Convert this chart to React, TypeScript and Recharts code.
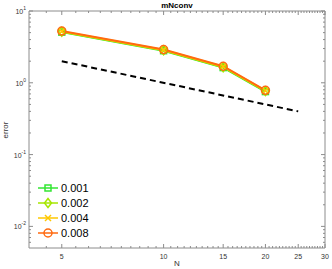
import React from "react";
import { Label, Legend, Line, LineChart, XAxis, YAxis } from "recharts";

// sample sizes and errors
const nValues = [5, 10, 15, 20];
const err001 = [5.08, 2.8, 1.63, 0.755];
const err002 = [5.14, 2.84, 1.65, 0.765];
const err004 = [5.2, 2.87, 1.68, 0.775];
const err008 = [5.26, 2.9, 1.7, 0.785];

// first-order reference slope (dashed)
const refN = [5, 25];
const refErr = [2, 0.4];

const xMajor = [5, 10, 15, 20, 25, 30];
const xMinor = [4.5, 5.5, 6, 6.5, 7, 7.5, 8, 8.5, 9, 9.5, 10.5, 11, 11.5, 12, 12.5, 13, 13.5, 14, 14.5, 15.5, 16, 16.5, 17, 17.5, 18, 18.5, 19, 19.5, 20.5, 21, 21.5, 22, 22.5, 23, 23.5, 24, 24.5, 25.5, 26, 26.5, 27, 27.5, 28, 28.5, 29, 29.5];
const yMajor = [0.01, 0.1, 1, 10];
const yMinor = [0.006, 0.007, 0.008, 0.009, 0.02, 0.03, 0.04, 0.05, 0.06, 0.07, 0.08, 0.09, 0.2, 0.3, 0.4, 0.5, 0.6, 0.7, 0.8, 0.9, 2, 3, 4, 5, 6, 7, 8, 9];
const yExp: Record<number, string> = { 0.01: "-2", 0.1: "-1", 1: "0", 10: "1" };

type MarkerKind = "square" | "diamond" | "cross" | "circle";

const series: { name: string; color: string; marker: MarkerKind; values: number[] }[] = [
  { name: "0.001", color: "#33e633", marker: "square", values: err001 },
  { name: "0.002", color: "#a6e600", marker: "diamond", values: err002 },
  { name: "0.004", color: "#ffc800", marker: "cross", values: err004 },
  { name: "0.008", color: "#ff6a10", marker: "circle", values: err008 },
];

const toPoints = (xs: number[], ys: number[]) => xs.map((n, i) => ({ n, e: ys[i] }));

const FONT = "'Liberation Sans', Arial, sans-serif";
const AXIS = "#8c8c8c";
const TEXT = "#333";

function Marker({ kind, cx, cy, color }: { kind: MarkerKind; cx: number; cy: number; color: string }) {
  const common = { stroke: color, strokeWidth: 1.5, fill: "none" };
  if (kind === "square") return <rect x={cx - 3} y={cy - 3} width={6} height={6} {...common} />;
  if (kind === "diamond")
    return <polygon points={`${cx},${cy - 4.5} ${cx + 3.5},${cy} ${cx},${cy + 4.5} ${cx - 3.5},${cy}`} {...common} />;
  if (kind === "cross")
    return (
      <g {...common}>
        <line x1={cx - 3} y1={cy - 3} x2={cx + 3} y2={cy + 3} />
        <line x1={cx - 3} y1={cy + 3} x2={cx + 3} y2={cy - 3} />
      </g>
    );
  return <circle cx={cx} cy={cy} r={4} {...common} />;
}

const BottomTick = (p: any) => {
  const v = p.payload.value;
  const major = xMajor.includes(v);
  return (
    <g>
      <line x1={p.x} x2={p.x} y1={p.y} y2={p.y - (major ? 4 : 2)} stroke={AXIS} />
      {major && (
        <text x={p.x} y={p.y + 11} textAnchor="middle" fontSize={7} fill={TEXT} fontFamily={FONT}>
          {v}
        </text>
      )}
    </g>
  );
};

const TopTick = (p: any) => {
  const major = xMajor.includes(p.payload.value);
  return <line x1={p.x} x2={p.x} y1={p.y} y2={p.y + (major ? 4 : 2)} stroke={AXIS} />;
};

const LeftTick = (p: any) => {
  const v = p.payload.value;
  const major = yMajor.includes(v);
  return (
    <g>
      <line x1={p.x} x2={p.x + (major ? 4 : 2)} y1={p.y} y2={p.y} stroke={AXIS} />
      {major && (
        <text x={p.x - 3} y={p.y + 3} textAnchor="end" fontSize={7} fill={TEXT} fontFamily={FONT}>
          10
          <tspan dy={-4} fontSize={5}>
            {yExp[v]}
          </tspan>
        </text>
      )}
    </g>
  );
};

const RightTick = (p: any) => {
  const major = yMajor.includes(p.payload.value);
  return <line x1={p.x} x2={p.x - (major ? 4 : 2)} y1={p.y} y2={p.y} stroke={AXIS} />;
};

const LegendBox = () => (
  <svg width={80} height={62} style={{ display: "block" }}>
    {series.map((s, i) => {
      const y = 8 + i * 15;
      return (
        <g key={s.name}>
          <line x1={2} x2={22} y1={y} y2={y} stroke={s.color} strokeWidth={1.5} />
          <Marker kind={s.marker} cx={12} cy={y} color={s.color} />
          <text x={25} y={y + 4} fontSize={11} fontFamily={FONT} fill="#000">
            {s.name}
          </text>
        </g>
      );
    })}
  </svg>
);

export default function App() {
  return (
    <div style={{ position: "absolute", left: 0, top: 0, width: 332, height: 269, background: "#fff" }}>
      <LineChart width={332} height={269} margin={{ top: 0, right: 0, bottom: 0, left: 0 }}>
        <XAxis
          xAxisId="b"
          dataKey="n"
          type="number"
          scale="log"
          domain={[4, 30]}
          allowDataOverflow
          ticks={[...xMajor, ...xMinor]}
          interval={0}
          height={21}
          tickSize={0}
          tickMargin={0}
          tickLine={false}
          stroke={AXIS}
          tick={BottomTick}
        >
          <Label
            content={() => (
              <text x={177} y={266} textAnchor="middle" fontSize={8} fill={TEXT} fontFamily={FONT}>
                N
              </text>
            )}
          />
        </XAxis>
        <XAxis
          xAxisId="t"
          orientation="top"
          dataKey="n"
          type="number"
          scale="log"
          domain={[4, 30]}
          allowDataOverflow
          ticks={[...xMajor, ...xMinor]}
          interval={0}
          height={11}
          tickSize={0}
          tickMargin={0}
          tickLine={false}
          stroke={AXIS}
          tick={TopTick}
        >
          <Label
            content={() => (
              <text x={177} y={8} textAnchor="middle" fontSize={8} fontWeight="bold" fill="#000" fontFamily={FONT}>
                mNconv
              </text>
            )}
          />
        </XAxis>
        <YAxis
          yAxisId="l"
          dataKey="e"
          type="number"
          scale="log"
          domain={[0.005, 10]}
          allowDataOverflow
          ticks={[...yMajor, ...yMinor]}
          interval={0}
          width={29}
          tickSize={0}
          tickMargin={0}
          tickLine={false}
          stroke={AXIS}
          tick={LeftTick}
        >
          <Label
            content={() => (
              <text transform="translate(8,130) rotate(-90)" textAnchor="middle" fontSize={8} fill={TEXT} fontFamily={FONT}>
                error
              </text>
            )}
          />
        </YAxis>
        <YAxis
          yAxisId="r"
          orientation="right"
          dataKey="e"
          type="number"
          scale="log"
          domain={[0.005, 10]}
          allowDataOverflow
          ticks={[...yMajor, ...yMinor]}
          interval={0}
          width={7}
          tickSize={0}
          tickMargin={0}
          tickLine={false}
          stroke={AXIS}
          tick={RightTick}
        />
        <Line
          xAxisId="b"
          yAxisId="l"
          data={toPoints(refN, refErr)}
          dataKey="e"
          stroke="#000"
          strokeWidth={2}
          strokeDasharray="6 4"
          dot={false}
          isAnimationActive={false}
          legendType="none"
        />
        {series.map((s) => (
          <Line
            key={s.name}
            xAxisId="b"
            yAxisId="l"
            name={s.name}
            data={toPoints(nValues, s.values)}
            dataKey="e"
            stroke={s.color}
            strokeWidth={2}
            isAnimationActive={false}
            dot={(p: any) => <Marker key={`${s.name}-${p.index}`} kind={s.marker} cx={p.cx} cy={p.cy} color={s.color} />}
          />
        ))}
        <Legend
          layout="vertical"
          align="center"
          verticalAlign="middle"
          content={LegendBox}
          wrapperStyle={{ position: "absolute", left: 36, top: 180, width: 80 }}
        />
      </LineChart>
    </div>
  );
}
